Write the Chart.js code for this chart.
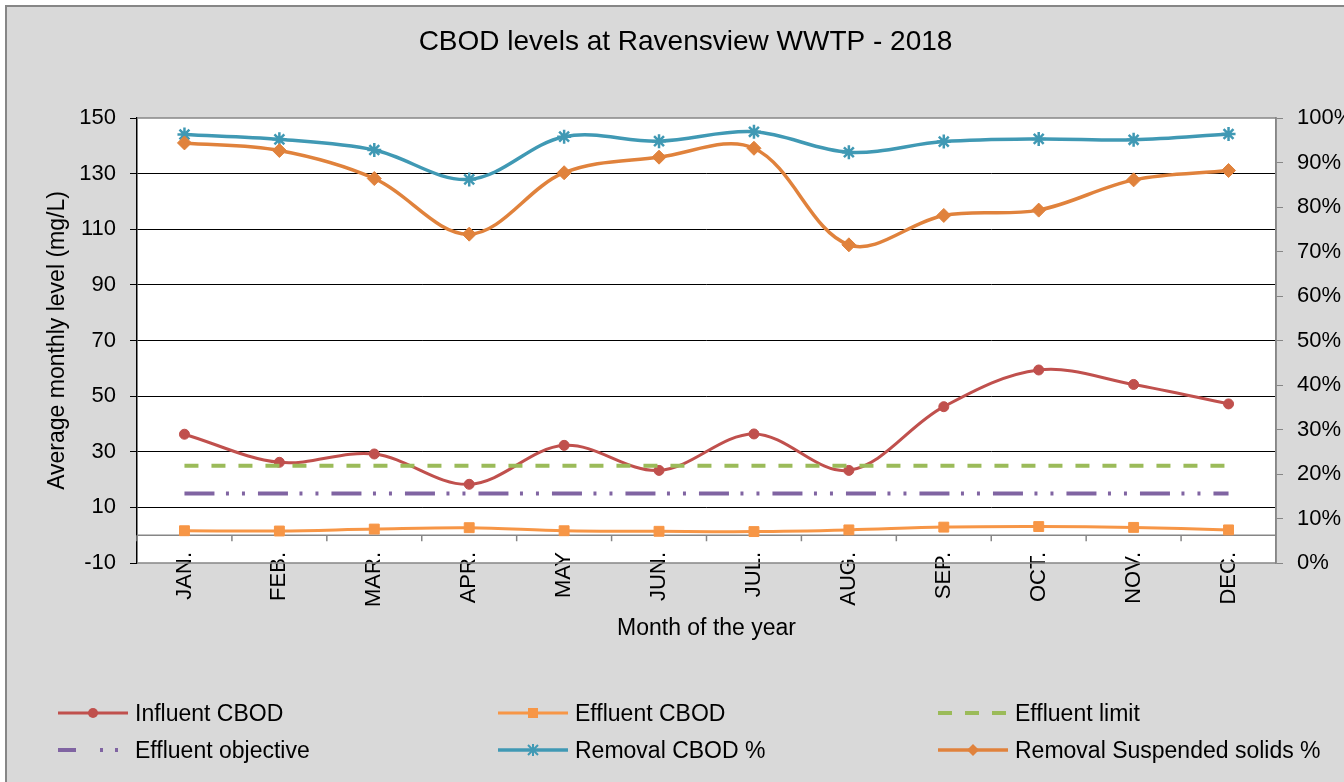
<!DOCTYPE html>
<html>
<head>
<meta charset="utf-8">
<script src="https://cdn.jsdelivr.net/npm/chart.js@4.4.0/dist/chart.umd.min.js"></script>
<style>
  body { margin: 0; background: #ffffff; width: 1344px; height: 782px; overflow: hidden; position: relative; font-family: "Liberation Sans", Arial, sans-serif; }
  #frame { position: absolute; left: 5px; top: 5px; width: 1400px; height: 800px; background: #d9d9d9; border-left: 2px solid #868686; border-top: 2px solid #868686; }
  #myChart { position: absolute; left: 0; top: 0; }
  .item { position: absolute; height: 28px; display: flex; align-items: center; font-size: 23px; color: #000; white-space: nowrap; }
  .item svg { margin-right: 7px; }
</style>
</head>
<body>
<div id="frame"></div>
<canvas id="myChart" width="1371" height="782"></canvas>
<div id="legend"></div>
<script>
const chartTitle = 'CBOD levels at Ravensview WWTP - 2018';
const months = ['JAN.', 'FEB.', 'MAR.', 'APR.', 'MAY', 'JUN.', 'JUL.', 'AUG.', 'SEP.', 'OCT.', 'NOV.', 'DEC.'];

// mg/L, left axis
const influentCBOD = [36.3, 26.2, 29.2, 18.3, 32.3, 23.3, 36.4, 23.3, 46.2, 59.4, 54.2, 47.2];
const effluentCBOD = [1.6, 1.5, 2.2, 2.7, 1.6, 1.4, 1.3, 1.9, 2.9, 3.1, 2.8, 1.9];
const effluentLimit = [25, 25, 25, 25, 25, 25, 25, 25, 25, 25, 25, 25];
const effluentObjective = [15, 15, 15, 15, 15, 15, 15, 15, 15, 15, 15, 15];

// %, right axis
const removalCBOD = [96.3, 95.2, 92.8, 86.2, 95.8, 94.8, 96.9, 92.3, 94.7, 95.3, 95.1, 96.4];
const removalSS = [94.4, 92.7, 86.4, 73.9, 87.7, 91.2, 93.2, 71.5, 78.1, 79.3, 86.1, 88.2];

const plotFrame = {
    id: 'plotFrame',
    afterLayout(chart) {
        // month labels start a little inside the plot, as in excel
        chart.scales.x.top = chart.chartArea.bottom - 11;
    },
    beforeDraw(chart) {
        const { ctx, chartArea: a } = chart;
        ctx.save();
        ctx.fillStyle = '#ffffff';
        ctx.fillRect(a.left, a.top, a.right - a.left, a.bottom - a.top);
        ctx.restore();
    },
    beforeDatasetsDraw(chart) {
        const { ctx, chartArea: a, scales } = chart;
        const y0 = scales.y.getPixelForValue(0);
        const n = chart.data.labels.length;
        const step = (a.right - a.left) / n;
        ctx.save();
        ctx.strokeStyle = '#868686';
        ctx.lineWidth = 1.5;
        ctx.beginPath();
        ctx.moveTo(a.left, a.top);
        ctx.lineTo(a.right, a.top);
        ctx.lineTo(a.right, a.bottom);
        ctx.lineTo(a.left, a.bottom);
        ctx.moveTo(a.left, y0);
        ctx.lineTo(a.right, y0);
        for (let i = 0; i <= n; i++) {
            const x = a.left + i * step;
            ctx.moveTo(x, y0);
            ctx.lineTo(x, y0 + 6);
        }
        ctx.stroke();
        ctx.restore();
    }
};

Chart.defaults.font.family = '"Liberation Sans", Arial, sans-serif';

const myChart = new Chart(document.getElementById('myChart'), {
    type: 'line',
    data: {
        labels: months,
        datasets: [{
            label: 'Influent CBOD',
            data: influentCBOD,
            yAxisID: 'y',
            borderColor: '#c0504d',
            backgroundColor: '#c0504d',
            pointBorderColor: '#c0504d',
            borderWidth: 3,
            pointStyle: 'circle',
            pointRadius: 5,
            pointBorderWidth: 1,
            tension: 0.35,
            order: 6
        }, {
            label: 'Effluent CBOD',
            data: effluentCBOD,
            yAxisID: 'y',
            borderColor: '#f79646',
            backgroundColor: '#f79646',
            pointBorderColor: '#f79646',
            borderWidth: 3,
            pointStyle: 'rect',
            pointRadius: 7,
            pointBorderWidth: 1,
            tension: 0.35,
            order: 5
        }, {
            label: 'Effluent limit',
            data: effluentLimit,
            yAxisID: 'y',
            borderColor: '#9bbb59',
            backgroundColor: '#9bbb59',
            borderWidth: 4,
            borderDash: [14, 13],
            pointRadius: 0,
            order: 4
        }, {
            label: 'Effluent objective',
            data: effluentObjective,
            yAxisID: 'y',
            borderColor: '#8064a2',
            backgroundColor: '#8064a2',
            borderWidth: 4,
            borderDash: [30, 11.5, 3, 13, 3, 13],
            pointRadius: 0,
            order: 3
        }, {
            label: 'Removal CBOD %',
            data: removalCBOD,
            yAxisID: 'y2',
            borderColor: '#4099b4',
            backgroundColor: '#4099b4',
            pointBorderColor: '#4099b4',
            borderWidth: 3.5,
            pointStyle: 'star',
            pointRadius: 7,
            pointBorderWidth: 2.5,
            tension: 0.35,
            order: 2
        }, {
            label: 'Removal Suspended solids %',
            data: removalSS,
            yAxisID: 'y2',
            borderColor: '#e0823c',
            backgroundColor: '#e0823c',
            pointBorderColor: '#e0823c',
            borderWidth: 3.5,
            pointStyle: 'rectRot',
            pointRadius: 7,
            pointBorderWidth: 1,
            tension: 0.35,
            order: 1
        }]
    },
    options: {
        responsive: false,
        animation: false,
        layout: { padding: { left: 0, right: 0, top: 0, bottom: 119 } },
        plugins: {
            legend: { display: false },
            tooltip: { enabled: false },
            title: {
                display: true,
                text: chartTitle,
                color: '#000',
                font: { size: 28, weight: 'normal' },
                padding: { top: 25, bottom: 59.4 }
            }
        },
        scales: {
            x: {
                offset: true,
                ticks: { color: '#000', font: { size: 22 }, maxRotation: 90, minRotation: 90, padding: 0, autoSkip: false },
                grid: { display: false, drawTicks: false, offset: true },
                border: { display: false },
                title: { display: true, text: 'Month of the year', color: '#000', font: { size: 23 }, padding: { top: 0, bottom: 21 } },
                afterFit: s => { s.height = 100; }
            },
            y: {
                position: 'left',
                min: -10,
                max: 150,
                ticks: { stepSize: 20, color: '#000', font: { size: 22 }, padding: 14 },
                grid: {
                    color: c => (c.tick && (c.tick.value === -10 || c.tick.value === 150)) ? 'rgba(0,0,0,0)' : '#000',
                    tickColor: '#000',
                    tickLength: 7,
                    lineWidth: 1
                },
                border: { color: '#000', width: 1.5 },
                title: { display: true, text: 'Average monthly level (mg/L)', color: '#000', font: { size: 23 }, padding: { top: 44, bottom: 0 } },
                afterFit: s => { s.width = 137; }
            },
            y2: {
                position: 'right',
                min: 0,
                max: 100,
                ticks: { stepSize: 10, color: '#000', font: { size: 22 }, padding: 14, callback: v => v + '%' },
                grid: { drawOnChartArea: false, color: '#868686', tickLength: 7 },
                border: { color: '#868686', width: 1.5 },
                afterFit: s => { s.width = 95; }
            }
        }
    },
    plugins: [plotFrame]
});

// html legend, 3 columns x 2 rows like the original
function legendSample(ds) {
    const w = 70, h = 28, cy = 14, cx = 35;
    const dash = ds.label === 'Effluent objective' ? '18 24 3 12 3 20' : (ds.borderDash ? ds.borderDash.join(' ') : '');
    let s = '<svg width="' + w + '" height="' + h + '">';
    s += '<line x1="0" y1="' + cy + '" x2="' + w + '" y2="' + cy + '" stroke="' + ds.borderColor + '" stroke-width="' + ds.borderWidth + '"' + (dash ? ' stroke-dasharray="' + dash + '"' : '') + '/>';
    const c = ds.borderColor;
    if (ds.pointRadius > 0) {
        if (ds.pointStyle === 'circle') {
            s += '<circle cx="' + cx + '" cy="' + cy + '" r="5" fill="' + c + '"/>';
        } else if (ds.pointStyle === 'rect') {
            s += '<rect x="' + (cx - 5) + '" y="' + (cy - 5) + '" width="10" height="10" fill="' + c + '"/>';
        } else if (ds.pointStyle === 'rectRot') {
            s += '<polygon points="' + cx + ',' + (cy - 6) + ' ' + (cx + 6) + ',' + cy + ' ' + cx + ',' + (cy + 6) + ' ' + (cx - 6) + ',' + cy + '" fill="' + c + '"/>';
        } else if (ds.pointStyle === 'star') {
            s += '<path d="M' + (cx - 5) + ' ' + (cy - 5) + 'L' + (cx + 5) + ' ' + (cy + 5) + 'M' + (cx - 5) + ' ' + (cy + 5) + 'L' + (cx + 5) + ' ' + (cy - 5) + 'M' + cx + ' ' + (cy - 6) + 'L' + cx + ' ' + (cy + 6) + '" stroke="' + c + '" stroke-width="2"/>';
        }
    }
    return s + '</svg>';
}

const legend = document.getElementById('legend');
myChart.data.datasets.forEach((ds, i) => {
    const col = i % 3, row = Math.floor(i / 3);
    const el = document.createElement('div');
    el.className = 'item';
    el.style.left = (58 + col * 440) + 'px';
    el.style.top = (699 + row * 37) + 'px';
    el.innerHTML = legendSample(ds) + '<span>' + ds.label + '</span>';
    legend.appendChild(el);
});
</script>
</body>
</html>
